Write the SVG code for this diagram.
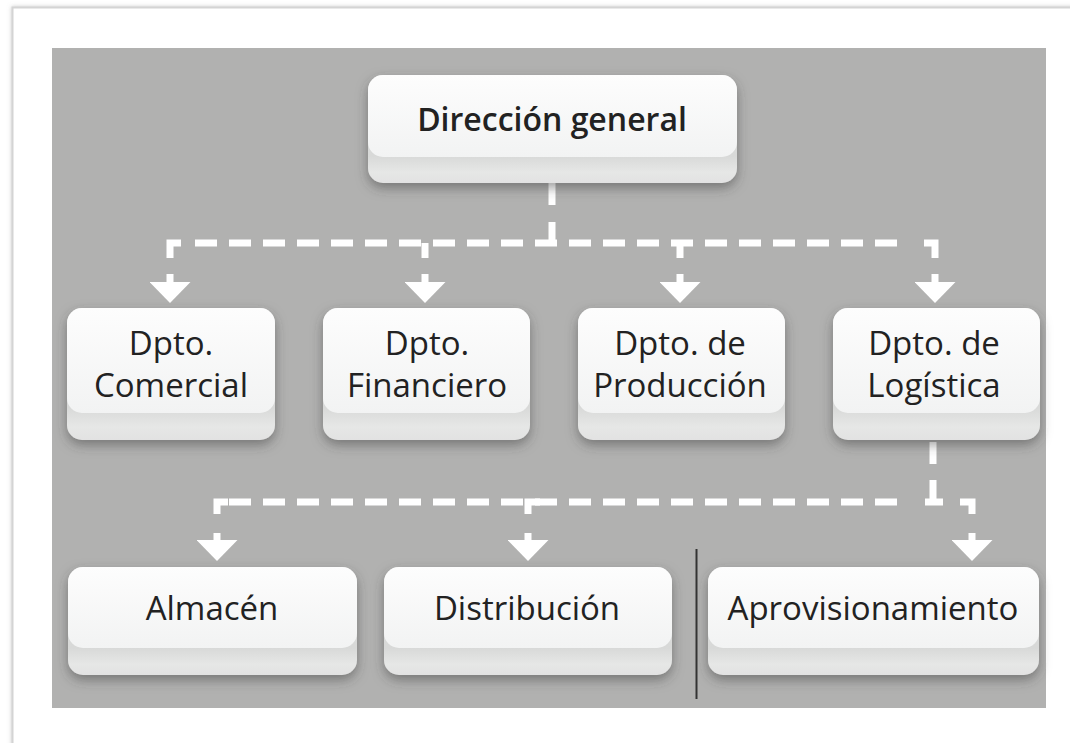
<svg xmlns="http://www.w3.org/2000/svg" width="1070" height="743" viewBox="0 0 1070 743">
<defs>
<style>
.face{fill:url(#faceG);}
.base{fill:url(#baseG);filter:url(#sh);}
.t1{font-family:"Open Sans","Liberation Sans",sans-serif;font-size:32px;font-weight:600;fill:#222;text-anchor:middle;}
.t2{font-family:"Open Sans","Liberation Sans",sans-serif;font-size:33px;font-weight:400;fill:#222;text-anchor:middle;}
.dash{fill:none;stroke:#fff;stroke-width:7;stroke-dasharray:22 12;}
.solid{fill:none;stroke:#fff;stroke-width:7;}
</style>
<linearGradient id="faceG" x1="0" y1="0" x2="0" y2="1">
<stop offset="0" stop-color="#fdfdfd"/>
<stop offset="1" stop-color="#f2f3f3"/>
</linearGradient>
<linearGradient id="baseG" x1="0" y1="0" x2="0" y2="1">
<stop offset="0" stop-color="#dcdddc"/>
<stop offset="0.75" stop-color="#d8d9d8"/>
<stop offset="0.9" stop-color="#e6e7e6"/>
<stop offset="1" stop-color="#e2e2e2"/>
</linearGradient>
<filter id="sh" x="-10%" y="-10%" width="120%" height="140%">
<feDropShadow dx="0" dy="5" stdDeviation="6" flood-color="#3a3a3a" flood-opacity="0.5"/>
</filter>
<filter id="pageSh" x="-5%" y="-5%" width="110%" height="110%">
<feDropShadow dx="0" dy="0" stdDeviation="2" flood-color="#999" flood-opacity="0.5"/>
</filter>
<marker id="arrow" markerUnits="userSpaceOnUse" viewBox="0 0 21 41" markerWidth="21" markerHeight="41" refX="0" refY="20.5" orient="auto">
<path d="M0,0 L21,20.5 L0,41 Z" fill="#fff"/>
</marker>
</defs>

<rect x="0" y="0" width="1070" height="743" fill="#fff"/>
<rect x="12.5" y="7.5" width="1080" height="760" fill="#fff" stroke="#d4d4d4" stroke-width="2" filter="url(#pageSh)"/>
<rect x="52" y="48" width="994" height="660" fill="#b1b1b0"/>

<g id="connectors">
<!-- level 1 -->
<path class="solid" d="M552 183 V205"/>
<path class="solid" d="M552 222 V246"/>
<path class="dash" d="M195 243 H909"/>
<path class="solid" d="M170 258 V243 H181"/>
<path class="solid" d="M924 243 H935 V258"/>
<path class="solid" d="M425 243 V258"/>
<path class="solid" d="M680 243 V258"/>
<path class="solid" d="M170 274 V282" marker-end="url(#arrow)"/>
<path class="solid" d="M425 274 V282" marker-end="url(#arrow)"/>
<path class="solid" d="M680 274 V282" marker-end="url(#arrow)"/>
<path class="solid" d="M935 274 V282" marker-end="url(#arrow)"/>
<!-- level 2 -->
<path class="solid" d="M933 442 V464"/>
<path class="solid" d="M933 480 V505"/>
<path class="dash" d="M229 502 H909"/>
<path class="solid" d="M217 514 V502 H228"/>
<path class="solid" d="M925 502 H943"/>
<path class="solid" d="M960 502 H972 V514"/>
<path class="solid" d="M528 514 V502 H540"/>
<path class="solid" d="M217 533 V540" marker-end="url(#arrow)"/>
<path class="solid" d="M528 533 V540" marker-end="url(#arrow)"/>
<path class="solid" d="M972 533 V540" marker-end="url(#arrow)"/>
<line x1="696.5" y1="549" x2="696.5" y2="699" stroke="#333" stroke-width="2"/>
</g>

<g id="n-direccion">
<rect class="base" x="368" y="75" width="369" height="108" rx="15"/>
<rect class="face" x="368" y="75" width="369" height="82" rx="15"/>
<text class="t1" x="552" y="131">Dirección general</text>
</g>

<g id="n-comercial">
<rect class="base" x="67" y="308" width="208" height="132" rx="15"/>
<rect class="face" x="67" y="308" width="208" height="105" rx="15"/>
<text class="t2" x="171" y="355">Dpto.</text>
<text class="t2" x="171" y="397">Comercial</text>
</g>

<g id="n-financiero">
<rect class="base" x="323" y="308" width="207" height="132" rx="15"/>
<rect class="face" x="323" y="308" width="207" height="105" rx="15"/>
<text class="t2" x="427" y="355">Dpto.</text>
<text class="t2" x="427" y="397">Financiero</text>
</g>

<g id="n-produccion">
<rect class="base" x="578" y="308" width="207" height="132" rx="15"/>
<rect class="face" x="578" y="308" width="207" height="105" rx="15"/>
<text class="t2" x="680" y="355">Dpto. de</text>
<text class="t2" x="680" y="397">Producción</text>
</g>

<g id="n-logistica">
<rect class="base" x="833" y="308" width="207" height="132" rx="15"/>
<rect class="face" x="833" y="308" width="207" height="105" rx="15"/>
<text class="t2" x="934" y="355">Dpto. de</text>
<text class="t2" x="934" y="397">Logística</text>
</g>

<g id="n-almacen">
<rect class="base" x="68" y="567" width="289" height="108" rx="15"/>
<rect class="face" x="68" y="567" width="289" height="81" rx="15"/>
<text class="t2" x="212" y="620">Almacén</text>
</g>

<g id="n-distribucion">
<rect class="base" x="384" y="567" width="288" height="108" rx="15"/>
<rect class="face" x="384" y="567" width="288" height="81" rx="15"/>
<text class="t2" x="527" y="620">Distribución</text>
</g>

<g id="n-aprovisionamiento">
<rect class="base" x="708" y="567" width="331" height="108" rx="15"/>
<rect class="face" x="708" y="567" width="331" height="81" rx="15"/>
<text class="t2" x="873" y="620">Aprovisionamiento</text>
</g>
</svg>
